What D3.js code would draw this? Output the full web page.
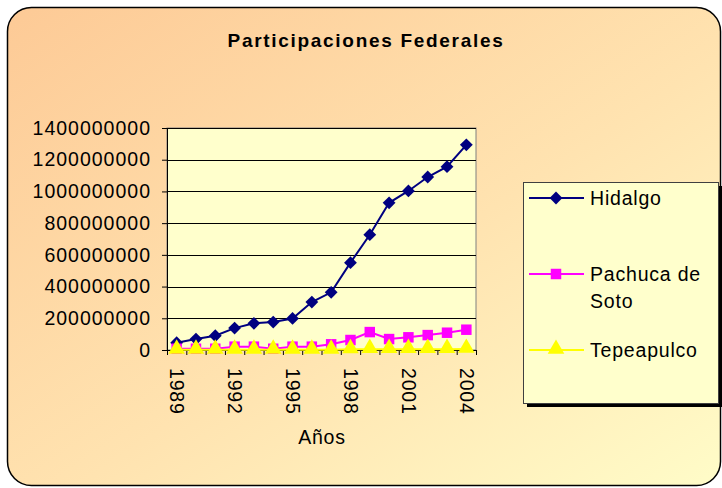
<!DOCTYPE html>
<html>
<head>
<meta charset="utf-8">
<script src="https://cdn.jsdelivr.net/npm/d3@7"></script>
<style>
  body { margin: 0; background: #ffffff; }
  text { font-family: "Liberation Sans", Arial, sans-serif; fill: #000; }
</style>
</head>
<body>
<div id="graph"></div>
<script>
// Chart data
var years = ['1989','1990','1991','1992','1993','1994','1995','1996',
             '1997','1998','1999','2000','2001','2002','2003','2004'];
var hidalgo = [46e6, 69e6, 90e6, 138e6, 168e6, 176e6, 199e6, 302e6,
               364e6, 551e6, 727e6, 928e6, 1003e6, 1091e6, 1156e6, 1294e6];
var pachuca = [8e6, 8e6, 8e6, 21e6, 21e6, 8e6, 21e6, 21e6,
               36e6, 63e6, 113e6, 69e6, 80e6, 94e6, 109e6, 128e6];
var tepeapulco = [1e6, 1e6, 1e6, 1e6, 1e6, 1e6, 1e6, 1e6,
                  1e6, 4e6, 5e6, 5e6, 5e6, 5e6, 5e6, 6e6];
var yTicks = [0, 200000000, 400000000, 600000000, 800000000, 1000000000, 1200000000, 1400000000];
var xLabelYears = ['1989','1992','1995','1998','2001','2004'];
var seriesNames = ['Hidalgo', 'Pachuca de Soto', 'Tepeapulco'];

var W = 722, H = 488;
var plot = { left: 167, top: 128, right: 476, bottom: 350 };

var svg = d3.select('#graph')
            .append('svg')
            .attr('width', W)
            .attr('height', H);

// Background gradient
var defs = svg.append('defs');
var grad = defs.append('linearGradient')
               .attr('id', 'bg')
               .attr('x1', '0').attr('y1', '0')
               .attr('x2', '1').attr('y2', '1');
grad.append('stop').attr('offset', '0%').attr('stop-color', '#fdca96');
grad.append('stop').attr('offset', '55%').attr('stop-color', '#ffe3b0');
grad.append('stop').attr('offset', '100%').attr('stop-color', '#fffcc8');

svg.append('rect')
   .attr('x', 7.5).attr('y', 7.5)
   .attr('width', 713).attr('height', 478)
   .attr('rx', 24).attr('ry', 24)
   .attr('fill', 'url(#bg)')
   .attr('stroke', '#000')
   .attr('stroke-width', 1.5);

// Title
svg.append('text')
   .attr('x', 366)
   .attr('y', 47)
   .style('text-anchor', 'middle')
   .style('font-weight', 'bold')
   .style('font-size', '19px')
   .style('letter-spacing', '1.7px')
   .text('Participaciones Federales');

// Scales
var xScale = d3.scaleBand()
               .domain(years)
               .range([plot.left, plot.right])
               .padding(0);

var xEdges = d3.scaleLinear()
               .domain([0, years.length])
               .range([plot.left, plot.right]);

var yScale = d3.scaleLinear()
               .domain([0, 1400000000])
               .range([plot.bottom, plot.top]);

// Plot area
svg.append('rect')
   .attr('x', plot.left).attr('y', plot.top)
   .attr('width', plot.right - plot.left)
   .attr('height', plot.bottom - plot.top)
   .attr('fill', '#ffffcc')
   .attr('stroke', '#808080')
   .attr('stroke-width', 1);

// Gridlines
svg.append('g')
   .selectAll('line')
   .data(yTicks.slice(1))
   .enter()
   .append('line')
   .attr('x1', plot.left).attr('x2', plot.right)
   .attr('y1', function (d) { return Math.round(yScale(d)) + 0.5; })
   .attr('y2', function (d) { return Math.round(yScale(d)) + 0.5; })
   .attr('stroke', '#000')
   .attr('stroke-width', 1);

// Y axis
var yAxis = d3.axisLeft(yScale)
              .tickValues(yTicks)
              .tickSize(5)
              .tickPadding(11)
              .tickFormat(d3.format('d'));

var gy = svg.append('g')
            .attr('transform', 'translate(' + plot.left + ',0)')
            .call(yAxis);
gy.select('.domain').attr('stroke', '#000');
gy.selectAll('text')
  .style('font-size', '19.5px')
  .style('letter-spacing', '1px');

// X axis tick marks at category edges
var xAxisTicks = d3.axisBottom(xEdges)
                   .tickValues(d3.range(years.length + 1))
                   .tickSize(5)
                   .tickFormat('');

var gx = svg.append('g')
            .attr('transform', 'translate(0,' + plot.bottom + ')')
            .call(xAxisTicks);
gx.select('.domain').attr('stroke', '#000');

// X axis labels, rotated
var xAxisLabels = d3.axisBottom(xScale)
                    .tickValues(xLabelYears)
                    .tickSize(0);

var gxl = svg.append('g')
             .attr('transform', 'translate(0,' + plot.bottom + ')')
             .call(xAxisLabels);
gxl.select('.domain').remove();
gxl.selectAll('text')
   .style('font-size', '19.5px')
   .style('letter-spacing', '0.8px')
   .style('text-anchor', 'start')
   .attr('x', 0)
   .attr('y', 0)
   .attr('dy', '0.35em')
   .attr('transform', 'translate(0,18) rotate(90)');

// Axis title
svg.append('text')
   .attr('x', 322)
   .attr('y', 444)
   .style('text-anchor', 'middle')
   .style('font-size', '19.5px')
   .style('letter-spacing', '0.8px')
   .text('Años');

// Series
var series = [
    { name: seriesNames[0], values: hidalgo,    color: '#000080', symbol: d3.symbolSquare,   size: 82,  rot: 45 },
    { name: seriesNames[1], values: pachuca,    color: '#ff00ff', symbol: d3.symbolSquare,   size: 110, rot: 0 },
    { name: seriesNames[2], values: tepeapulco, color: '#ffff00', symbol: d3.symbolTriangle, size: 120, rot: 0 }
];

var line = d3.line()
             .x(function (d, i) { return xScale(years[i]) + xScale.bandwidth() / 2; })
             .y(function (d) { return yScale(d); });

series.forEach(function (s)
{
    svg.append('path')
       .datum(s.values)
       .attr('fill', 'none')
       .attr('stroke', s.color)
       .attr('stroke-width', 2)
       .attr('d', line);

    svg.append('g')
       .selectAll('path')
       .data(s.values)
       .enter()
       .append('path')
       .attr('d', d3.symbol().type(s.symbol).size(s.size))
       .attr('transform', function (d, i)
       {
           var dy = s.symbol === d3.symbolTriangle ? -1 : 0;
           return 'translate(' + (xScale(years[i]) + xScale.bandwidth() / 2) + ',' + (yScale(d) + dy) + ') rotate(' + s.rot + ')';
       })
       .attr('fill', s.color);
});

// Legend
var legend = { x: 523, y: 182, w: 195, h: 221 };

svg.append('rect')
   .attr('x', legend.x + 4).attr('y', legend.y + 4)
   .attr('width', legend.w).attr('height', legend.h)
   .attr('fill', '#000');

svg.append('rect')
   .attr('x', legend.x + 0.5).attr('y', legend.y + 0.5)
   .attr('width', legend.w).attr('height', legend.h)
   .attr('fill', '#ffffcc')
   .attr('stroke', '#404040')
   .attr('stroke-width', 1);

var legendRows = [
    { y: 198, lines: ['Hidalgo'] },
    { y: 274, lines: ['Pachuca de', 'Soto'] },
    { y: 350, lines: ['Tepeapulco'] }
];

legendRows.forEach(function (row, i)
{
    var s = series[i];
    svg.append('line')
       .attr('x1', 529).attr('x2', 584)
       .attr('y1', row.y).attr('y2', row.y)
       .attr('stroke', s.color)
       .attr('stroke-width', 2);

    svg.append('path')
       .attr('d', d3.symbol().type(s.symbol).size(s.size))
       .attr('transform', 'translate(556,' + (row.y + (s.symbol === d3.symbolTriangle ? -1 : 0)) + ') rotate(' + s.rot + ')')
       .attr('fill', s.color);

    var t = svg.append('text')
               .attr('x', 590)
               .attr('y', row.y)
               .style('font-size', '19.5px')
               .style('letter-spacing', '0.8px');

    row.lines.forEach(function (ln, j)
    {
        t.append('tspan')
         .attr('x', 590)
         .attr('dy', j === 0 ? '0.35em' : '1.4em')
         .text(ln);
    });
});
</script>
</body>
</html>
